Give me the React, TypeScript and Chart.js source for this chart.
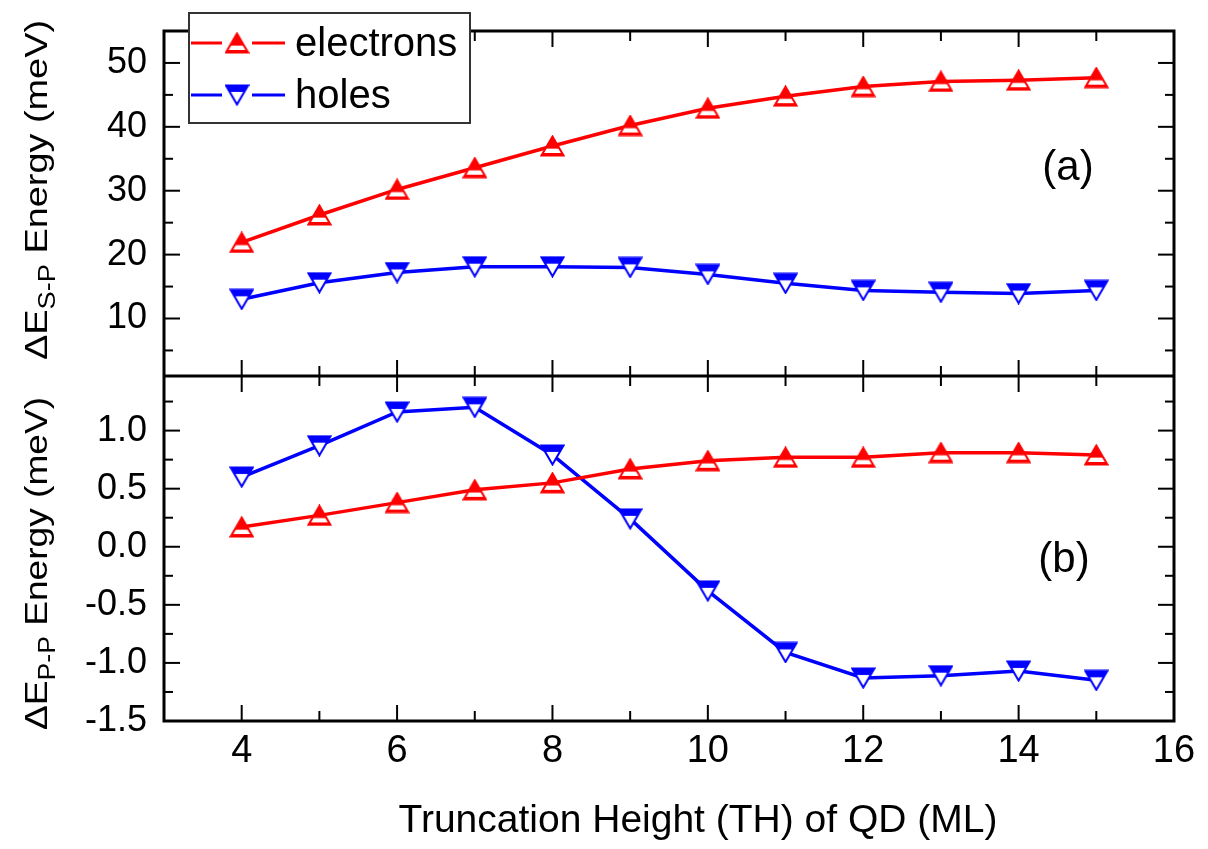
import React, { useEffect, useRef } from 'react';
import { Chart, registerables } from 'chart.js';

Chart.register(...registerables);

// ---- data ----
const TH = [4, 5, 6, 7, 8, 9, 10, 11, 12, 13, 14, 15];
const electronsSP = [21.9, 26.2, 30.2, 33.6, 37.0, 40.2, 42.9, 44.8, 46.3, 47.1, 47.3, 47.7];
const holesSP = [13.0, 15.6, 17.2, 18.1, 18.1, 18.0, 16.9, 15.5, 14.4, 14.1, 13.9, 14.4];
const electronsPP = [0.17, 0.27, 0.38, 0.49, 0.55, 0.67, 0.74, 0.77, 0.77, 0.81, 0.81, 0.79];
const holesPP = [0.6, 0.87, 1.16, 1.2, 0.79, 0.24, -0.38, -0.91, -1.13, -1.11, -1.07, -1.15];

const X_TICKS = [4, 6, 8, 10, 12, 14, 16];
const X_MINOR = [5, 7, 9, 11, 13, 15];
const SP_TICKS = [10, 20, 30, 40, 50];
const SP_MINOR = [5, 15, 25, 35, 45];
const PP_TICKS = [-1.5, -1.0, -0.5, 0, 0.5, 1.0];
const PP_MINOR = [-1.25, -0.75, -0.25, 0.25, 0.75, 1.25];

const SERIES_LABELS = ['electrons', 'holes'];
const X_TITLE = 'Truncation Height (TH) of QD (ML)';

const RED = '#ff0000';
const BLUE = '#0000ff';
const FONT = '"Liberation Sans", Arial, sans-serif';

function makeMarker(color: string, up: boolean): HTMLCanvasElement {
  const w = 25, h = 22;
  const c = document.createElement('canvas');
  c.width = w; c.height = h;
  const g = c.getContext('2d')!;
  const p = new Path2D();
  if (up) {
    p.moveTo(w / 2, 1.5); p.lineTo(w - 1.5, h - 1.5); p.lineTo(1.5, h - 1.5); p.closePath();
  } else {
    p.moveTo(1.5, 1.5); p.lineTo(w - 1.5, 1.5); p.lineTo(w / 2, h - 1.5); p.closePath();
  }
  g.fillStyle = color;
  g.fill(p);
  g.save();
  g.clip(p);
  g.fillStyle = '#fff';
  if (up) g.fillRect(0, h * 0.62, w, h - 4 - h * 0.62);
  else g.fillRect(0, h * 0.36, w, h);
  g.restore();
  g.strokeStyle = color;
  g.lineWidth = 2;
  g.stroke(p);
  return c;
}

function drawYTitle(ctx: CanvasRenderingContext2D, sub: string, bx: number, by: number, len: number) {
  const big = `32px ${FONT}`;
  const small = `23px ${FONT}`;
  ctx.font = big;
  const w1 = ctx.measureText('ΔE').width;
  const w3 = ctx.measureText(' Energy (meV)').width;
  ctx.font = small;
  const w2 = ctx.measureText(sub).width;
  const s = len / (w1 + w2 + w3);
  ctx.save();
  ctx.translate(bx, by);
  ctx.rotate(-Math.PI / 2);
  ctx.scale(s, 1);
  ctx.fillStyle = '#000';
  ctx.textAlign = 'left';
  ctx.textBaseline = 'alphabetic';
  ctx.font = big;
  ctx.fillText('ΔE', 0, 0);
  ctx.font = small;
  ctx.fillText(sub, w1, 8);
  ctx.font = big;
  ctx.fillText(' Energy (meV)', w1 + w2, 0);
  ctx.restore();
}

export default function App() {
  const ref = useRef<HTMLCanvasElement | null>(null);

  useEffect(() => {
    if (!ref.current) return;
    const upImg = makeMarker(RED, true);
    const downImg = makeMarker(BLUE, false);

    const framePlugin = {
      id: 'frame',
      afterDatasetsDraw(chart: any) {
        const ctx: CanvasRenderingContext2D = chart.ctx;
        const x = chart.scales.x;
        const panels = [
          { s: chart.scales.yA, major: SP_TICKS, minor: SP_MINOR },
          { s: chart.scales.yB, major: PP_TICKS, minor: PP_MINOR },
        ];
        const L = chart.chartArea.left, R = chart.chartArea.right;
        ctx.save();
        ctx.strokeStyle = '#000';
        ctx.lineWidth = 2;
        const seg = (x0: number, y0: number, x1: number, y1: number) => {
          ctx.beginPath(); ctx.moveTo(x0, y0); ctx.lineTo(x1, y1); ctx.stroke();
        };
        for (const p of panels) {
          const T = p.s.top, B = p.s.bottom;
          for (const v of p.major) {
            const py = p.s.getPixelForValue(v);
            seg(L, py, L + 16, py); seg(R, py, R - 16, py);
          }
          for (const v of p.minor) {
            const py = p.s.getPixelForValue(v);
            seg(L, py, L + 9, py); seg(R, py, R - 9, py);
          }
          for (const v of X_TICKS) {
            const px = x.getPixelForValue(v);
            seg(px, T, px, T + 16); seg(px, B, px, B - 16);
          }
          for (const v of X_MINOR) {
            const px = x.getPixelForValue(v);
            seg(px, T, px, T + 10); seg(px, B, px, B - 10);
          }
        }
        ctx.lineWidth = 3;
        const ca = chart.chartArea;
        ctx.strokeRect(ca.left, ca.top, ca.right - ca.left, ca.bottom - ca.top);
        const mid = chart.scales.yA.bottom;
        seg(ca.left, mid, ca.right, mid);
        ctx.restore();
      },
      afterDraw(chart: any) {
        const ctx: CanvasRenderingContext2D = chart.ctx;
        ctx.save();
        // legend
        const bx = 189, by = 13, bw = 281, bh = 110;
        ctx.fillStyle = '#fff';
        ctx.fillRect(bx, by, bw, bh);
        ctx.strokeStyle = '#333';
        ctx.lineWidth = 2;
        ctx.strokeRect(bx, by, bw, bh);
        const rows = [
          { y: 43, color: RED, img: upImg, label: SERIES_LABELS[0] },
          { y: 95, color: BLUE, img: downImg, label: SERIES_LABELS[1] },
        ];
        for (const r of rows) {
          ctx.strokeStyle = r.color;
          ctx.lineWidth = 3;
          ctx.beginPath(); ctx.moveTo(191, r.y); ctx.lineTo(222, r.y); ctx.stroke();
          ctx.beginPath(); ctx.moveTo(252, r.y); ctx.lineTo(285, r.y); ctx.stroke();
          ctx.drawImage(r.img, 237 - r.img.width / 2, r.y - r.img.height / 2);
          ctx.fillStyle = '#000';
          ctx.font = `40px ${FONT}`;
          ctx.textAlign = 'left';
          ctx.textBaseline = 'middle';
          ctx.fillText(r.label, 295, r.y + 2);
        }
        // panel labels
        ctx.fillStyle = '#000';
        ctx.font = `42px ${FONT}`;
        ctx.textAlign = 'center';
        ctx.textBaseline = 'middle';
        ctx.fillText('(a)', 1068, 168);
        ctx.fillText('(b)', 1064, 560);
        // x title
        ctx.font = `39px ${FONT}`;
        ctx.fillText(X_TITLE, 698, 821);
        ctx.restore();
        drawYTitle(ctx, 'S-P', 47, 360, 340);
        drawYTitle(ctx, 'P-P', 47, 730, 333);
      },
    };

    const pts = (ys: number[]) => TH.map((t, i) => ({ x: t, y: ys[i] }));
    const ds = (ys: number[], axis: string, color: string, img: HTMLCanvasElement, label: string) => ({
      label,
      data: pts(ys),
      yAxisID: axis,
      xAxisID: 'x',
      borderColor: color,
      backgroundColor: color,
      borderWidth: 3.5,
      pointStyle: img,
      pointRadius: 11,
      tension: 0,
      fill: false,
    });

    const noPadY = (s: any) => { s.width = 164; s.paddingTop = 0; s.paddingBottom = 0; };

    const chart = new Chart(ref.current, {
      type: 'line',
      data: {
        datasets: [
          ds(electronsSP, 'yA', RED, upImg, SERIES_LABELS[0]),
          ds(holesSP, 'yA', BLUE, downImg, SERIES_LABELS[1]),
          ds(electronsPP, 'yB', RED, upImg, SERIES_LABELS[0]),
          ds(holesPP, 'yB', BLUE, downImg, SERIES_LABELS[1]),
        ] as any,
      },
      options: {
        animation: false,
        responsive: false,
        layout: { padding: { left: 0, right: 34, top: 31, bottom: 0 } },
        plugins: { legend: { display: false }, tooltip: { enabled: false } },
        scales: {
          x: {
            type: 'linear',
            min: 3,
            max: 16,
            afterBuildTicks: (s: any) => { s.ticks = X_TICKS.map((v) => ({ value: v })); },
            afterFit: (s: any) => { s.height = 128; s.paddingLeft = 0; s.paddingRight = 0; },
            grid: { display: false, drawTicks: false },
            border: { display: false },
            ticks: { color: '#000', font: { family: FONT, size: 38 }, padding: 8, maxRotation: 0, autoSkip: false },
          },
          yB: {
            type: 'linear',
            position: 'left',
            stack: 'panels',
            stackWeight: 1,
            min: -1.5,
            max: 1.47,
            afterBuildTicks: (s: any) => { s.ticks = PP_TICKS.map((v) => ({ value: v })); },
            afterFit: noPadY,
            grid: { display: false, drawTicks: false },
            border: { display: false },
            ticks: { color: '#000', font: { family: FONT, size: 36 }, padding: 17, autoSkip: false, callback: (v: any) => Number(v).toFixed(1) },
          },
          yA: {
            type: 'linear',
            position: 'left',
            stack: 'panels',
            stackWeight: 1,
            min: 1,
            max: 55,
            afterBuildTicks: (s: any) => { s.ticks = SP_TICKS.map((v) => ({ value: v })); },
            afterFit: noPadY,
            grid: { display: false, drawTicks: false },
            border: { display: false },
            ticks: { color: '#000', font: { family: FONT, size: 36 }, padding: 17, autoSkip: false, callback: (v: any) => String(v) },
          },
        },
      } as any,
      plugins: [framePlugin],
    });
    return () => chart.destroy();
  }, []);

  return (
    <div style={{ position: 'absolute', left: 0, top: 0, width: 1208, height: 849, background: '#fff' }}>
      <canvas ref={ref} width={1208} height={849} style={{ display: 'block' }} />
    </div>
  );
}
